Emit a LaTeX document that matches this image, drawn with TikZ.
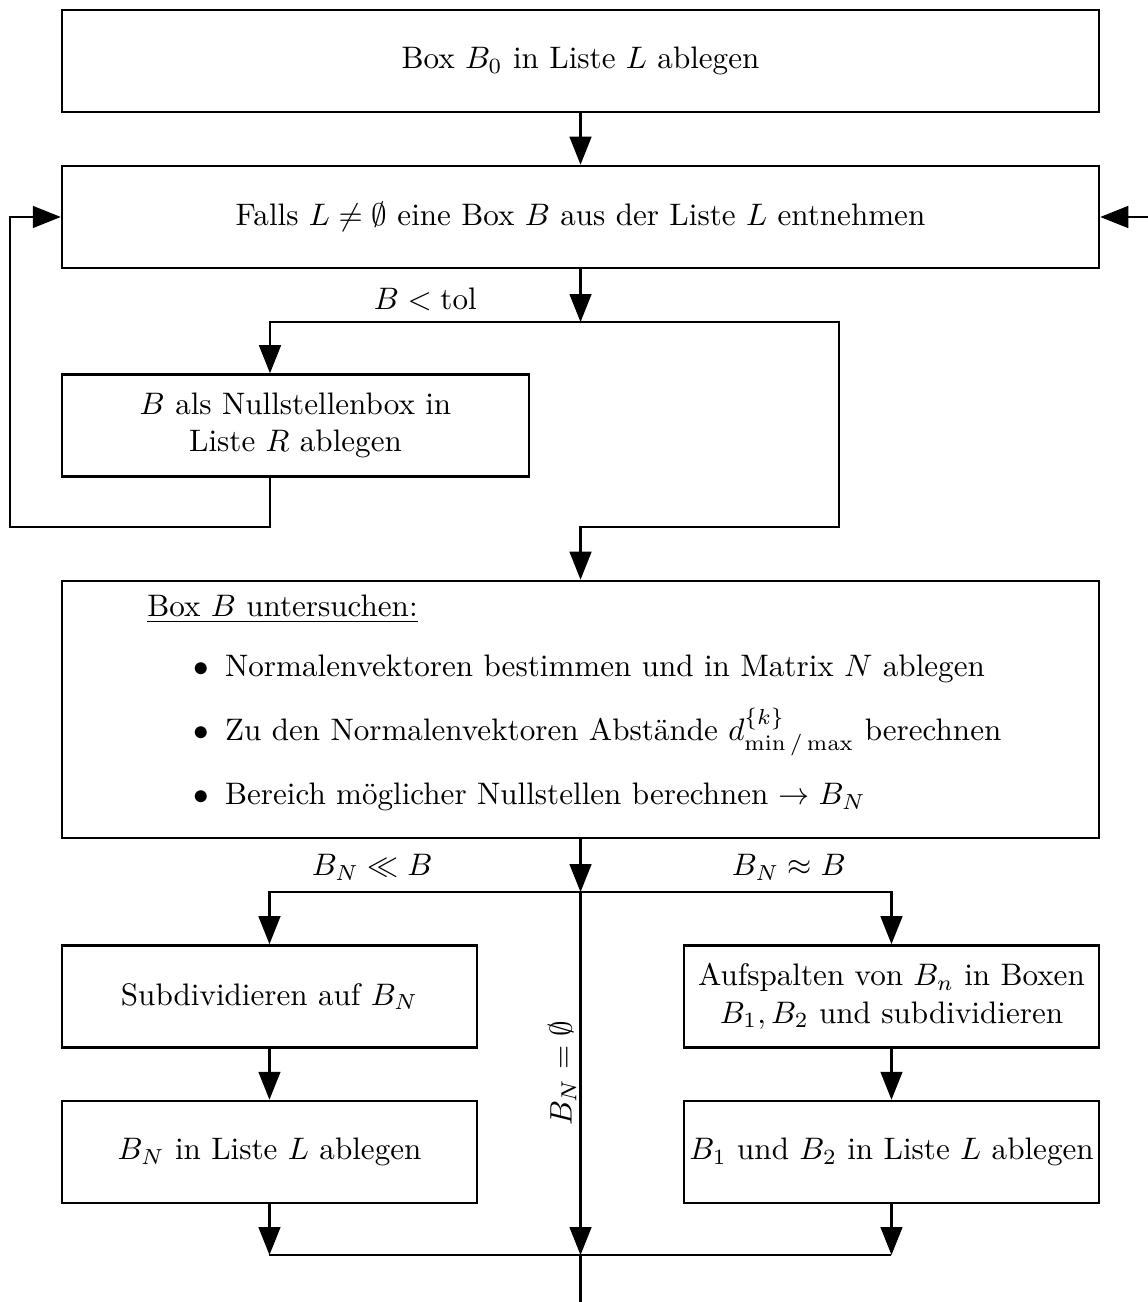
\documentclass[tikz,border=0pt]{standalone}
\usepackage{amsmath, amssymb}
\usetikzlibrary{arrows.meta}

\begin{document}
\begin{tikzpicture}[line width=0.7pt,
        kasten/.style={draw, thick, rectangle, minimum height=1.153cm, align=center},
        arr/.style={-{Triangle[length=9pt,width=7pt]}}]
        \clip (0,0) rectangle (12.972,-14.713);
        \draw (6.56,-0.689)  node[kasten, minimum width=11.718cm] (b0) {Box $B_0$ in Liste $L$ ablegen};
        \draw (6.56,-2.452)  node[kasten, minimum width=11.718cm] (take) {Falls $L \neq \emptyset$ eine Box $B$ aus der Liste $L$ entnehmen};
        \draw (3.339,-4.808) node[kasten, minimum width=5.277cm] (null) {$B$ als Nullstellenbox in\\ Liste $R$ ablegen};
        \draw (6.56,-8.017)  node[kasten, minimum height=2.904cm, text width=9.79cm, inner xsep=0.964cm, align=left] (check)
            {\underline{Box $B$ untersuchen:}\\[7pt]
             \hspace*{15pt}$\bullet$\hspace*{5pt}Normalenvektoren bestimmen und in Matrix $N$ ablegen\\[7.1pt]
             \hspace*{15pt}$\bullet$\hspace*{5pt}Zu den Normalenvektoren Abstände $d^{\{k\}}_{\min/\max}$ berechnen\\[7.7pt]
             \hspace*{15pt}$\bullet$\hspace*{5pt}Bereich möglicher Nullstellen berechnen $\rightarrow B_N$\rule[-6pt]{0pt}{6pt}};
        \draw (3.045,-11.26)  node[kasten, minimum width=4.69cm] (sub) {Subdividieren auf $B_N$};
        \draw (10.074,-11.26) node[kasten, minimum width=4.69cm] (split) {Aufspalten von $B_n$ in Boxen\\ $B_1, B_2$ und subdividieren};
        \draw (3.045,-13.018)  node[kasten, minimum width=4.69cm] (subL) {$B_N$ in Liste $L$ ablegen};
        \draw (10.074,-13.018) node[kasten, minimum width=4.69cm, inner xsep=1.5pt] (splitL) {$B_1$ und $B_2$ in Liste $L$ ablegen};
        % Verzweigungspunkte
        \coordinate (j1) at (6.56,-3.639);
        \coordinate (j1l) at (3.051,-3.639);
        \coordinate (j1r) at (9.481,-3.639);
        \coordinate (j2) at (6.56,-5.955);
        \coordinate (loop) at (0.113,-5.955);
        \coordinate (back) at (13.5,-2.452);
        \coordinate (j3) at (6.56,-10.08);
        \coordinate (j4) at (6.56,-14.182);
        \coordinate (out) at (6.56,-15);
        \draw[arr] (b0) -- (take);
        \draw[arr] (back) -- (take.east);
        \draw[arr] (take) -- (j1);
        \draw[arr] (j1) -- node[above] {$B < \text{tol}$} (j1l) -- (j1l |- null.north);
        \draw[arr] (j1) -- (j1r) |- (j2) -- (check.north);
        \draw[arr] (null.south -| j1l) |- (loop) |- (take.west);
        \draw[arr] (check) -- (j3);
        \draw[arr] (j3) -- node[pos=0.67, above] {$B_N \ll B$} (j3 -| sub) -- (sub);
        \draw[arr] (j3) -- node[pos=0.67, above] {$B_N \approx B$} (j3 -| split) -- (split);
        \draw[arr] (sub) -- (subL);
        \draw[arr] (split) -- (splitL);
        \draw[arr] (subL) -- (subL |- j4);
        \draw[arr] (splitL) -- (splitL |- j4);
        \draw (subL |- j4) -- (splitL |- j4);
        \draw[arr] (j3) -- node[midway, rotate=90, above, inner sep=1pt] {$B_N = \emptyset$} (j4);
        \draw (j4) -- (out);
\end{tikzpicture}
\end{document}
